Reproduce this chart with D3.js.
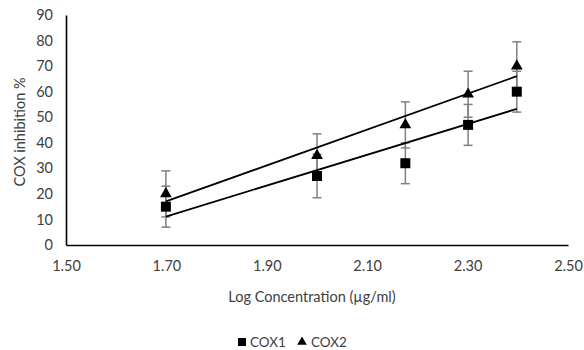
<!DOCTYPE html>
<html>
<head>
<meta charset="UTF-8">
<script src="https://cdn.jsdelivr.net/npm/d3@7"></script>
<style>
  body { margin: 0; background: #fff; }
  svg text { font-family: Lato, "Open Sans", sans-serif; fill: #404040; }
</style>
</head>
<body>
<script>
// data
var logConc = [1.699, 2.000, 2.176, 2.301, 2.398];
var cox1 = [15, 27, 32, 47, 60];
var cox1Err = [8, 8.5, 8, 8, 8];
var cox2 = [20, 35, 47, 59, 70];
var cox2Err = [9, 8.5, 9, 9, 9.5];
var xTicks = [1.5, 1.7, 1.9, 2.1, 2.3, 2.5];
var yTicks = [0, 10, 20, 30, 40, 50, 60, 70, 80, 90];

var W = 584, H = 350;
var svg = d3.select("body").append("svg")
    .attr("width", W).attr("height", H);

var x = d3.scaleLinear().domain([1.5, 2.5]).range([66, 568]);
var y = d3.scaleLinear().domain([0, 90]).range([245, 15]);

// axes, no tick marks
var xAxis = svg.append("g").attr("transform", "translate(0," + y(0) + ")")
    .call(d3.axisBottom(x).tickValues(xTicks).tickSize(0).tickPadding(16).tickFormat(d3.format(".2f")));
var yAxis = svg.append("g").attr("transform", "translate(" + x(1.5) + ",0)")
    .call(d3.axisLeft(y).tickValues(yTicks).tickSize(0).tickPadding(13));
[xAxis, yAxis].forEach(function (a) {
  a.select(".domain").attr("stroke", "#000").attr("stroke-width", 1.6);
  a.selectAll("text").attr("font-size", 14.5).attr("fill", "#404040");
});

svg.append("text").attr("x", 312).attr("y", 302).attr("text-anchor", "middle")
   .attr("font-size", 14.5).text("Log Concentration (µg/ml)");
svg.append("text").attr("transform", "translate(25,132) rotate(-90)")
   .attr("text-anchor", "middle").attr("font-size", 14.5).text("COX inhibition %");

// linear trendline like the spreadsheet one
function fit(xs, ys) {
  var mx = d3.mean(xs), my = d3.mean(ys);
  var sxy = d3.sum(xs, function (v, i) { return (v - mx) * (ys[i] - my); });
  var sxx = d3.sum(xs, function (v) { return (v - mx) * (v - mx); });
  var b = sxy / sxx;
  return function (v) { return my + b * (v - mx); };
}

var series = [
  { name: "COX1", vals: cox1, err: cox1Err, sym: d3.symbolSquare, size: 100 },
  { name: "COX2", vals: cox2, err: cox2Err, sym: d3.symbolTriangle, size: 60 }
];

// error bars first
series.forEach(function (s) {
  var g = svg.append("g").attr("stroke", "#808080").attr("stroke-width", 1.5);
  logConc.forEach(function (c, i) {
    var lo = y(s.vals[i] - s.err[i]), hi = y(s.vals[i] + s.err[i]), cx = x(c);
    g.append("line").attr("x1", cx).attr("x2", cx).attr("y1", lo).attr("y2", hi);
    g.append("line").attr("x1", cx - 4.5).attr("x2", cx + 4.5).attr("y1", lo).attr("y2", lo);
    g.append("line").attr("x1", cx - 4.5).attr("x2", cx + 4.5).attr("y1", hi).attr("y2", hi);
  });
});

// markers
series.forEach(function (s) {
  svg.append("g").selectAll("path").data(logConc).join("path")
     .attr("d", d3.symbol().type(s.sym).size(s.size))
     .attr("transform", function (d, i) { return "translate(" + x(d) + "," + y(s.vals[i]) + ")"; })
     .attr("fill", "#000");
});

// trendlines on top
series.forEach(function (s) {
  var f = fit(logConc, s.vals);
  var x0 = d3.min(logConc), x1 = d3.max(logConc);
  svg.append("line")
     .attr("x1", x(x0)).attr("y1", y(f(x0)))
     .attr("x2", x(x1)).attr("y2", y(f(x1)))
     .attr("stroke", "#000").attr("stroke-width", 1.8);
});

// legend
var leg = svg.append("g");
leg.append("path").attr("d", d3.symbol().type(d3.symbolSquare).size(64)())
   .attr("transform", "translate(242,342)").attr("fill", "#000");
leg.append("text").attr("x", 250).attr("y", 347).attr("font-size", 13.5).text("COX1");
leg.append("path").attr("d", d3.symbol().type(d3.symbolTriangle).size(40)())
   .attr("transform", "translate(302,342)").attr("fill", "#000");
leg.append("text").attr("x", 311).attr("y", 347).attr("font-size", 13.5).text("COX2");
</script>
</body>
</html>
